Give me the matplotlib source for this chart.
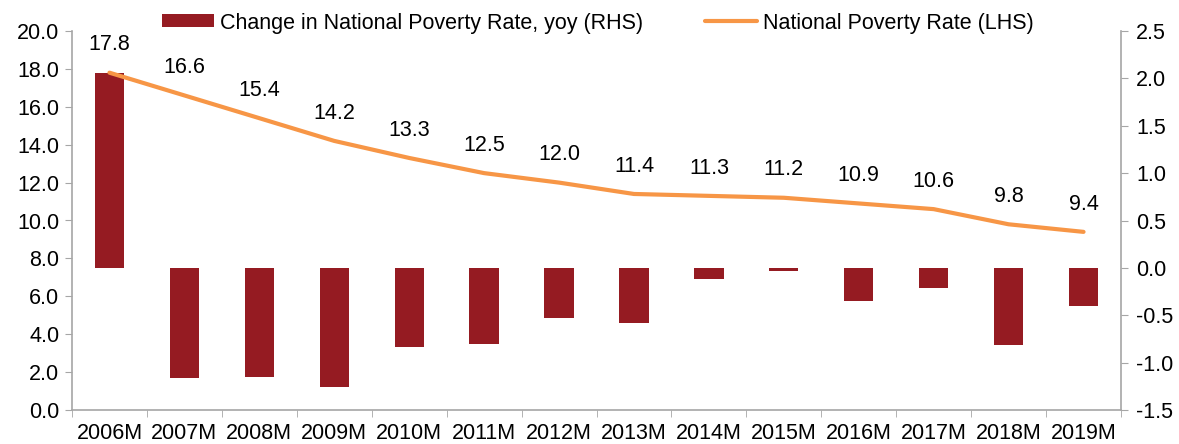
import matplotlib
matplotlib.use("Agg")
import matplotlib.pyplot as plt
import numpy as np
from matplotlib.ticker import FixedLocator, NullFormatter

plt.rcParams['font.family'] = ['Liberation Sans', 'DejaVu Sans']

categories = ["2006M", "2007M", "2008M", "2009M", "2010M", "2011M", "2012M",
              "2013M", "2014M", "2015M", "2016M", "2017M", "2018M", "2019M"]
poverty_rate = [17.8, 16.6, 15.4, 14.2, 13.3, 12.5, 12.0, 11.4, 11.3, 11.2, 10.9, 10.6, 9.8, 9.4]
change_yoy = [2.06, -1.16, -1.15, -1.26, -0.84, -0.80, -0.53, -0.58, -0.12, -0.03, -0.35, -0.21, -0.81, -0.40]
left_ticks = [0, 2, 4, 6, 8, 10, 12, 14, 16, 18, 20]
right_ticks = [-1.5, -1.0, -0.5, 0.0, 0.5, 1.0, 1.5, 2.0, 2.5]

bar_color = "#951B22"
line_color = "#F79646"
spine_color = "#A6A6A6"
fs = 15.5

fig = plt.figure(figsize=(11.79, 4.44), dpi=100)
ax = fig.add_axes([72/1179, 1-410/444, (1121-72)/1179, (410-31)/444])
ax2 = ax.twinx()

x = np.arange(len(categories))

# bars on right axis
ax2.bar(x, change_yoy, width=0.39, color=bar_color, zorder=2,
        label="Change in National Poverty Rate, yoy (RHS)")
ax2.set_ylim(-1.5, 2.5)
ax2.set_yticks(right_ticks)
ax2.set_yticklabels([f"{v:.1f}" for v in right_ticks], fontsize=fs)

# line on left axis -- draw on top of bars
ax.set_zorder(ax2.get_zorder() + 1)
ax.patch.set_visible(False)
ln, = ax.plot(x, poverty_rate, color=line_color, lw=3, solid_capstyle='round',
              label="National Poverty Rate (LHS)")
for xi, v in zip(x, poverty_rate):
    ax.annotate(f"{v:.1f}", (xi, v), xytext=(0, 20), textcoords="offset points",
                ha="center", va="center", fontsize=fs, color="black")

ax.set_ylim(0, 20)
ax.set_yticks(left_ticks)
ax.set_yticklabels([f"{v:.1f}" for v in left_ticks], fontsize=fs)
ax.set_xlim(-0.5, len(categories) - 0.5)
ax.set_xticks(x)
ax.set_xticklabels(categories, fontsize=fs)
ax.tick_params(axis='x', which='major', length=0, pad=9)
ax.xaxis.set_minor_locator(FixedLocator(np.arange(-0.5, len(categories), 1.0)))
ax.xaxis.set_minor_formatter(NullFormatter())
ax.tick_params(axis='x', which='minor', length=5, color=spine_color, direction='out')
ax.tick_params(axis='y', length=5, color=spine_color, direction='out', pad=4)
ax2.tick_params(axis='y', length=5, color=spine_color, direction='out', pad=6)

for a in (ax, ax2):
    a.spines['top'].set_visible(False)
    for s in ('left', 'right', 'bottom'):
        a.spines[s].set_color(spine_color)
        a.spines[s].set_linewidth(1.2)
ax.spines['right'].set_visible(False)
ax2.spines['left'].set_visible(False)
ax2.spines['bottom'].set_visible(False)

bars_handle = ax2.containers[0]
leg = fig.legend([bars_handle, ln],
                 ["Change in National Poverty Rate, yoy (RHS)", "National Poverty Rate (LHS)"],
                 loc="center left", bbox_to_anchor=(162/1179, 1-23/444), ncol=2,
                 frameon=False, fontsize=fs, handlelength=2.4, handleheight=0.55,
                 handletextpad=0.28, columnspacing=2.9, borderpad=0, borderaxespad=0)

fig.savefig("out.png", dpi=100)
